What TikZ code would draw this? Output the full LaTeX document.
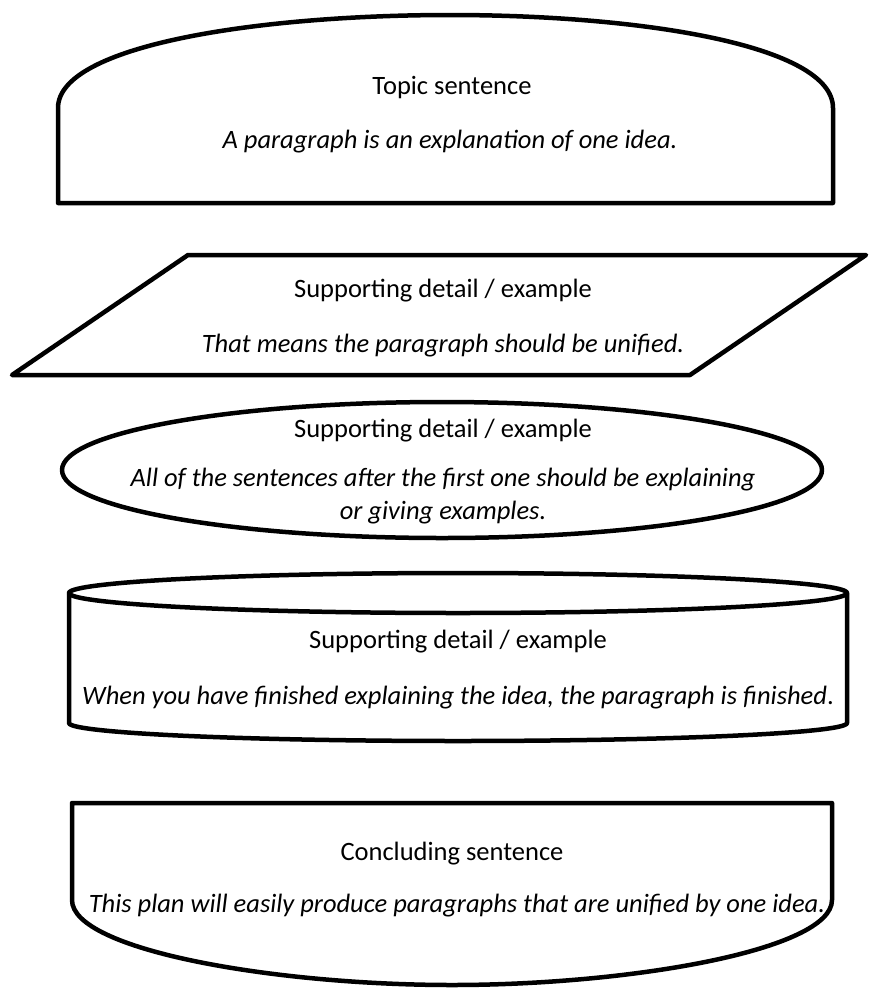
\documentclass[tikz,border=0pt]{standalone}
\usepackage{fontspec}
\setmainfont{Carlito}
\usetikzlibrary{positioning}

\begin{document}
\begin{tikzpicture}[x=1pt,y=-1pt,line join=round,
  outline/.style={draw,line width=4.5pt,fill=white},
  head/.style={font=\fontsize{26.5}{32}\selectfont,inner sep=0pt,anchor=base},
  note/.style={font=\fontsize{26.5}{32}\selectfont\itshape,inner sep=0pt,anchor=base}]
\useasboundingbox (0,0) rectangle (872,989);

% topic sentence
\draw[outline] (58,203) -- (58,108) .. controls (58,45) and (260,15) .. (450,15)
  .. controls (640,15) and (833,45) .. (833,108) -- (833,203) -- cycle;
\node[head] (topic) at (452,94) {Topic sentence};
\node[note] (topicText) at (450,148) {A paragraph is an explanation of one idea.};

% first detail
\draw[outline] (188,255) -- (866,255) -- (690,375) -- (12,375) -- cycle;
\node[head] (detailA) at (443,297) {Supporting detail / example};
\node[note] (detailAText) at (443,352) {That means the paragraph should be unified.};

% second detail
\draw[outline] (442,470) ellipse [x radius=380, y radius=68];
\node[head] (detailB) at (443,437) {Supporting detail / example};
\node[note] (detailBText) at (443,486) {All of the sentences after the first one should be explaining};
\node[note] (detailBMore) at (443,519) {or giving examples.};

% third detail
\draw[outline] (69,593) -- (69,723) arc[start angle=180,end angle=0,x radius=389,y radius=18]
  -- (847,593) arc[start angle=0,end angle=-180,x radius=389,y radius=20] -- cycle;
\draw[outline,fill=none] (69,593) arc[start angle=180,end angle=0,x radius=389,y radius=20];
\node[head] (detailC) at (458,648) {Supporting detail / example};
\node[note] (detailCText) at (458,704) {When you have finished explaining the idea, the paragraph is finished\upshape.};

% concluding sentence
\draw[outline] (72,803) -- (832,803) -- (832,900) .. controls (832,950) and (630,985) .. (452,985)
  .. controls (274,985) and (72,950) .. (72,900) -- cycle;
\node[head] (conclusion) at (452,860) {Concluding sentence};
\node[note] (conclusionText) at (457,912) {This plan will easily produce paragraphs that are unified by one idea.};
\end{tikzpicture}
\end{document}
